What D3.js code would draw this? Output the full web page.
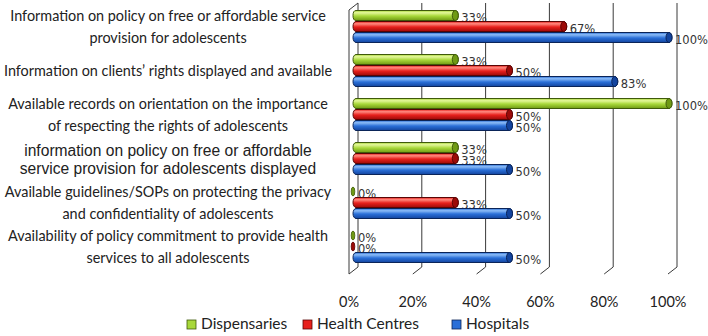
<!DOCTYPE html>
<html>
<head>
<meta charset="utf-8">
<script src="https://cdn.jsdelivr.net/npm/d3@7"></script>
<style>
  body { margin: 0; background: #fff; }
  svg { display: block; }
</style>
</head>
<body>
<div id="chart"></div>
<script>
// data
var categories = [
  ["Information on policy on free or affordable service", "provision for adolescents"],
  ["Information on clients\u2019 rights displayed and available"],
  ["Available records on orientation on the importance", "of respecting  the rights of adolescents"],
  ["information on policy on free or affordable", "service provision for adolescents displayed"],
  ["Available guidelines/SOPs on protecting the privacy", "and confidentiality of adolescents"],
  ["Availability of policy commitment to provide health", "services to all adolescents"]
];
var seriesNames = ["Dispensaries", "Health Centres", "Hospitals"];
var dispensaries = [33, 33, 100, 33, 0, 0];
var healthCentres = [67, 50, 50, 33, 33, 0];
var hospitals = [100, 83, 50, 50, 50, 50];
var tickValues = [0, 20, 40, 60, 80, 100];

var width = 708, height = 336;
var calibri = "Lato, 'Open Sans', sans-serif";

var palette = [
  {top: "#e4f79a", mid: "#a8d83a", bot: "#6f9a14", line: "#3f5a0a"},
  {top: "#ff8a80", mid: "#e8201c", bot: "#9c0a08", line: "#5a0404"},
  {top: "#8cbcf6", mid: "#2a6fd8", bot: "#13449e", line: "#0a2458"}
];

var svg = d3.select("#chart").append("svg")
    .attr("width", width)
    .attr("height", height);

var defs = svg.append("defs");
palette.forEach(function(c, i) {
  var g = defs.append("linearGradient")
      .attr("id", "grad" + i)
      .attr("x1", 0).attr("y1", 0).attr("x2", 0).attr("y2", 1);
  g.append("stop").attr("offset", "0%").attr("stop-color", c.mid);
  g.append("stop").attr("offset", "22%").attr("stop-color", c.top);
  g.append("stop").attr("offset", "55%").attr("stop-color", c.mid);
  g.append("stop").attr("offset", "100%").attr("stop-color", c.bot);
});

// front scale, the back wall sits a bit up and right
var x = d3.scaleLinear().domain([0, 100]).range([349, 668]);
var depth = {dx: 9, dy: -7};
var barShift = 4;

var y = d3.scaleBand()
    .domain(d3.range(categories.length))
    .range([4.5, 268.5])
    .paddingInner(0.25)
    .paddingOuter(0.125);

var ySub = d3.scaleBand()
    .domain(d3.range(seriesNames.length))
    .range([0, y.bandwidth()]);

var frontTop = 10, frontBottom = 274;

// back wall gridlines
svg.append("g").selectAll("line")
  .data(tickValues)
  .enter().append("line")
    .attr("x1", function(d) { return x(d) + depth.dx; })
    .attr("x2", function(d) { return x(d) + depth.dx; })
    .attr("y1", frontTop + depth.dy)
    .attr("y2", frontBottom + depth.dy)
    .attr("stroke", "#3a3a3a")
    .attr("stroke-width", 1);

// floor depth ticks
svg.append("g").selectAll("line")
  .data(tickValues)
  .enter().append("line")
    .attr("x1", function(d) { return x(d); })
    .attr("y1", frontBottom)
    .attr("x2", function(d) { return x(d) + depth.dx; })
    .attr("y2", frontBottom + depth.dy)
    .attr("stroke", "#3a3a3a");

// left wall front edge
svg.append("path")
    .attr("d", "M" + x(0) + "," + frontBottom + "V" + frontTop +
         "L" + (x(0) + depth.dx) + "," + (frontTop + depth.dy))
    .attr("fill", "none")
    .attr("stroke", "#3a3a3a");

// bars
var rows = [];
categories.forEach(function(c, i) {
  [dispensaries, healthCentres, hospitals].forEach(function(arr, s) {
    rows.push({cat: i, s: s, v: arr[i]});
  });
});

var bars = svg.append("g").selectAll("g")
  .data(rows)
  .enter().append("g");

bars.each(function(d) {
  var g = d3.select(this);
  var c = palette[d.s];
  var y0 = y(d.cat) + ySub(d.s) + 0.5;
  var h = ySub.bandwidth() - 1;
  var x0 = x(0) + barShift, x1 = x(d.v) + barShift;
  var r = 3;
  if (d.v > 0) {
    g.append("path")
      .attr("d", "M" + (x0 + r) + "," + y0 + "H" + (x1 - r) +
           "A" + r + "," + (h / 2) + " 0 0 1 " + (x1 - r) + "," + (y0 + h) +
           "H" + (x0 + r) +
           "A" + r + "," + (h / 2) + " 0 0 1 " + (x0 + r) + "," + y0 + "Z")
      .attr("fill", "url(#grad" + d.s + ")")
      .attr("stroke", c.line)
      .attr("stroke-width", 1);
    g.append("ellipse")
      .attr("cx", x1 - r).attr("cy", y0 + h / 2)
      .attr("rx", r).attr("ry", h / 2)
      .attr("fill", c.bot)
      .attr("stroke", c.line);
  } else {
    g.append("ellipse")
      .attr("cx", x0).attr("cy", y0 + h / 2)
      .attr("rx", 1.8).attr("ry", h / 2 - 0.5)
      .attr("fill", c.bot)
      .attr("stroke", c.line)
      .attr("stroke-width", 0.8);
  }
  g.append("text")
    .attr("x", x1 + (d.v > 0 ? 3 : 5))
    .attr("y", y0 + h / 2 + 2.5)
    .attr("dominant-baseline", "middle")
    .attr("font-family", "'DejaVu Sans', Verdana, sans-serif")
    .attr("font-size", "11.5px")
    .attr("fill", "#333")
    .text(d.v + "%");
});

// category labels
var catG = svg.append("g").selectAll("text")
  .data(categories)
  .enter().append("text")
    .attr("text-anchor", "middle")
    .attr("fill", "#222")
    .attr("font-family", function(d, i) { return i == 3 ? "'Liberation Sans', Arial, sans-serif" : calibri; })
    .attr("font-size", function(d, i) { return i == 3 ? "15.6px" : "14.4px"; });

catG.each(function(lines, i) {
  var t = d3.select(this);
  var lh = i == 3 ? 18 : 22;
  var cy = y(i) + y.bandwidth() / 2 + 2;
  lines.forEach(function(l, k) {
    t.append("tspan")
      .attr("x", 168)
      .attr("y", cy + (k - (lines.length - 1) / 2) * lh)
      .attr("dominant-baseline", "middle")
      .text(l);
  });
});

// x axis labels
svg.append("g").selectAll("text")
  .data(tickValues)
  .enter().append("text")
    .attr("x", function(d) { return x(d); })
    .attr("y", 303)
    .attr("text-anchor", "middle")
    .attr("dominant-baseline", "middle")
    .attr("font-family", calibri)
    .attr("font-size", "14.5px")
    .attr("fill", "#222")
    .text(function(d) { return d + "%"; });

// legend
var legendX = [187, 303, 452];
var legend = svg.append("g").selectAll("g")
  .data(seriesNames)
  .enter().append("g")
    .attr("transform", function(d, i) { return "translate(" + legendX[i] + ",325)"; });
legend.append("rect")
    .attr("x", 0).attr("y", -5)
    .attr("width", 9).attr("height", 9)
    .attr("fill", function(d, i) { return palette[i].mid; })
    .attr("stroke", function(d, i) { return palette[i].line; })
    .attr("stroke-width", 0.8);
legend.append("text")
    .attr("x", 14)
    .attr("y", 0)
    .attr("dominant-baseline", "middle")
    .attr("font-family", calibri)
    .attr("font-size", "15.5px")
    .attr("fill", "#222")
    .text(function(d) { return d; });
</script>
</body>
</html>
